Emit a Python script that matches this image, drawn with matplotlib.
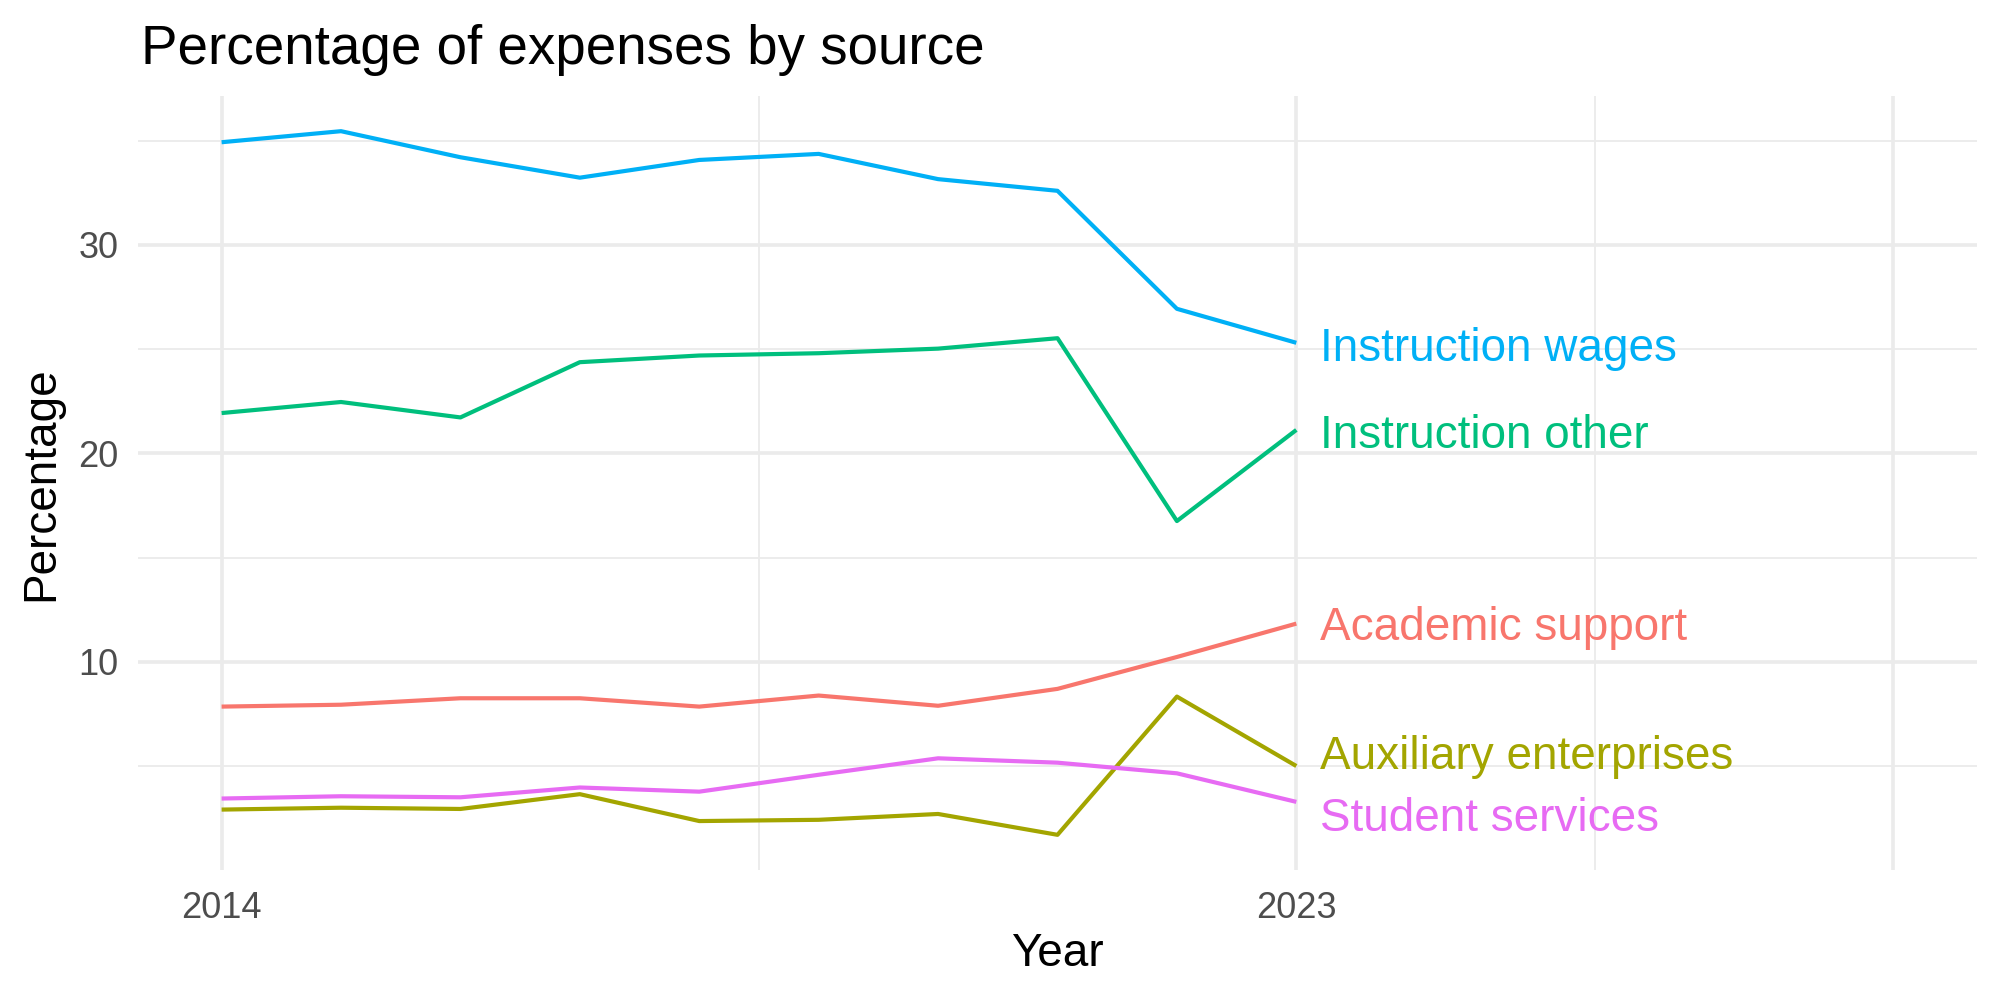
import matplotlib
matplotlib.use("Agg")
import matplotlib.pyplot as plt
import numpy as np

years = [2014, 2015, 2016, 2017, 2018, 2019, 2020, 2021, 2022, 2023]
categories = ["Academic support", "Auxiliary enterprises", "Instruction other",
              "Instruction wages", "Student services"]
academic_support = [7.85, 7.94, 8.25, 8.25, 7.85, 8.38, 7.89, 8.70, 10.23, 11.83]
auxiliary_enterprises = [2.91, 3.00, 2.94, 3.65, 2.36, 2.42, 2.70, 1.70, 8.33, 5.00]
instruction_other = [21.93, 22.46, 21.72, 24.37, 24.69, 24.80, 25.02, 25.52, 16.75, 21.12]
instruction_wages = [34.92, 35.45, 34.20, 33.22, 34.07, 34.36, 33.15, 32.59, 26.93, 25.30]
student_services = [3.44, 3.55, 3.50, 3.97, 3.77, 4.58, 5.37, 5.16, 4.65, 3.28]
x_tick_labels = ["2014", "2023"]
y_ticks = [10, 20, 30]

series = [academic_support, auxiliary_enterprises, instruction_other,
          instruction_wages, student_services]
colors = ["#F8766D", "#A3A500", "#00BF7D", "#00B0F6", "#E76BF3"]
# repelled label positions (layout, in data units)
label_y = [11.62, 5.45, 20.85, 25.02, 2.48]

plt.rcParams["font.family"] = ["Liberation Sans", "DejaVu Sans"]

fig = plt.figure(figsize=(10, 5), dpi=200)
ax = fig.add_axes([0.069, 0.13, 0.9195, 0.774])

for vals, col in zip(series, colors):
    ax.plot(years, vals, color=col, lw=1.5, solid_capstyle="butt", zorder=3)

for cat, col, ly in zip(categories, colors, label_y):
    ax.text(years[-1] + 0.2, ly, cat, color=col, fontsize=16.5,
            ha="left", va="center", zorder=4)

x0, x1 = 2014, 2028
xr = x1 - x0
ax.set_xlim(x0 - 0.05 * xr, x1 + 0.05 * xr)
allv = np.concatenate([np.array(s) for s in series])
lo, hi = allv.min(), allv.max()
yr = hi - lo
ax.set_ylim(lo - 0.05 * yr, hi + 0.05 * yr)

grid_c = "#EBEBEB"
for gx in [2014, 2023, 2028]:
    ax.axvline(gx, color=grid_c, lw=1.3, zorder=1)
for gx in [2018.5, 2025.5]:
    ax.axvline(gx, color=grid_c, lw=0.65, zorder=1)
for gy in y_ticks:
    ax.axhline(gy, color=grid_c, lw=1.3, zorder=1)
for gy in [5, 15, 25, 35]:
    ax.axhline(gy, color=grid_c, lw=0.65, zorder=1)

ax.set_xticks([2014, 2023])
ax.set_xticklabels(x_tick_labels)
ax.set_yticks(y_ticks)
ax.tick_params(length=0, labelsize=13, labelcolor="#4D4D4D")
ax.tick_params(axis="x", pad=7.5)
ax.tick_params(axis="y", pad=7)
for s in ax.spines.values():
    s.set_visible(False)

fig.text(0.5287, 0.046, "Year", fontsize=16.5, ha="center", va="center")
fig.text(0.0204, 0.5166, "Percentage", fontsize=16.5, ha="center", va="center",
         rotation=90)
fig.text(0.0705, 0.936, "Percentage of expenses by source", fontsize=19.7,
         ha="left", va="baseline")

fig.savefig("out.png", dpi=200, facecolor="white")
